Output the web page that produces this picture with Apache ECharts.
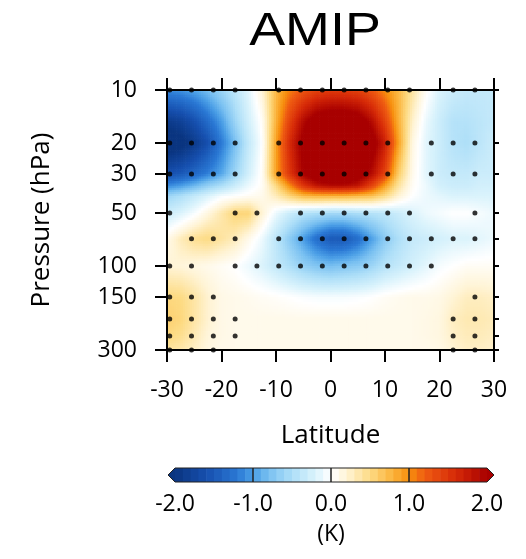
<!DOCTYPE html>
<html><head><meta charset="utf-8">
<script src="https://cdn.jsdelivr.net/npm/echarts@6/dist/echarts.min.js"></script>
<style>html,body{margin:0;padding:0;background:#fff}#c{width:526px;height:559px}</style>
</head><body><div id="c"></div>
<script>
// ---- data ----
const lats = [-30,-27.5,-25,-22.5,-20,-17.5,-15,-12.5,-10,-7.5,-5,-2.5,0,2.5,5,7.5,10,12.5,15,17.5,20,22.5,25,27.5,30];
const levels = [10,15,20,30,35,40,50,70,100,150,200,250,300];
const t10  = [-1.1,-1.05,-0.95,-0.8,-0.6,-0.4,-0.15,0.2,0.75,1.05,1.25,1.4,1.45,1.45,1.4,1.25,1.0,0.75,0.4,0.05,-0.2,-0.3,-0.35,-0.35,-0.35];
const t15  = [-1.9,-1.8,-1.6,-1.3,-1.0,-0.6,-0.25,0.05,0.8,1.4,1.9,2.2,2.3,2.3,2.2,1.9,1.4,0.8,0.25,-0.1,-0.3,-0.45,-0.45,-0.4,-0.35];
const t20  = [-2.2,-2.1,-1.9,-1.6,-1.2,-0.8,-0.35,0.0,0.9,1.6,2.1,2.4,2.5,2.5,2.4,2.2,1.7,0.9,0.15,-0.15,-0.3,-0.45,-0.5,-0.4,-0.3];
const t30  = [-1.6,-1.5,-1.35,-1.15,-0.95,-0.6,-0.25,0.05,0.9,1.5,2.0,2.3,2.4,2.4,2.2,1.9,1.4,0.6,0.1,-0.15,-0.3,-0.35,-0.35,-0.3,-0.3];
const t35  = [-1.1,-1.0,-0.85,-0.65,-0.5,-0.3,-0.1,0.05,0.5,1.0,1.5,1.8,1.9,1.9,1.8,1.4,0.9,0.4,0.05,-0.1,-0.25,-0.3,-0.3,-0.25,-0.25];
const t40  = [-0.6,-0.5,-0.35,-0.2,-0.05,0.0,0.05,0.1,0.3,0.55,0.75,0.8,0.8,0.8,0.75,0.7,0.5,0.2,0.0,-0.1,-0.15,-0.2,-0.2,-0.2,-0.2];
const t50  = [-0.3,-0.2,-0.05,0.15,0.35,0.55,0.55,0.2,-0.1,-0.3,-0.45,-0.5,-0.55,-0.55,-0.5,-0.45,-0.4,-0.3,-0.2,-0.1,-0.05,0.0,0.0,-0.05,-0.1];
const t70  = [0.1,0.3,0.45,0.5,0.4,0.3,0.1,-0.1,-0.4,-0.7,-1.0,-1.3,-1.5,-1.5,-1.3,-1.0,-0.7,-0.5,-0.35,-0.3,-0.25,-0.2,-0.2,-0.15,-0.1];
const t100 = [0.2,0.18,0.14,0.1,0.05,0.0,-0.1,-0.2,-0.35,-0.5,-0.65,-0.75,-0.8,-0.75,-0.7,-0.6,-0.45,-0.35,-0.25,-0.15,-0.05,0.0,0.05,0.05,0.05];
const t150 = [0.52,0.5,0.38,0.22,0.12,0.1,0.08,0.05,0.03,0.0,-0.03,-0.05,-0.05,-0.05,-0.03,0.0,0.05,0.08,0.1,0.1,0.12,0.2,0.28,0.28,0.25];
const t200 = [0.58,0.53,0.38,0.22,0.12,0.1,0.1,0.1,0.1,0.1,0.1,0.1,0.1,0.1,0.1,0.1,0.1,0.1,0.1,0.12,0.15,0.28,0.33,0.33,0.3];
const t250 = [0.52,0.46,0.32,0.18,0.12,0.1,0.1,0.1,0.1,0.1,0.1,0.1,0.1,0.1,0.1,0.1,0.1,0.1,0.1,0.12,0.15,0.25,0.3,0.3,0.27];
const t300 = [0.4,0.35,0.26,0.15,0.1,0.1,0.1,0.1,0.1,0.1,0.1,0.1,0.1,0.1,0.1,0.1,0.1,0.1,0.1,0.1,0.12,0.2,0.26,0.26,0.23];
const field = [t10,t15,t20,t30,t35,t40,t50,t70,t100,t150,t200,t250,t300];

const pressureTicks = [10,20,30,50,100,150,300];
const dotLats = [-29.5,-25.5,-21.5,-17.5,-13.5,-9.5,-5.5,-1.5,2.5,6.5,10.5,14.5,18.5,22.5,26.5];
const dotLevels = [10,20,30,50,70,100,150,200,250,300];
const d10  = [0,1,2,3,5,6,7,8,9,10,11,13,14];
const d20  = [0,1,2,3,5,6,7,8,9,10,12,13,14];
const d30  = [0,1,2,3,5,6,7,8,9,10,12,13,14];
const d50  = [0,3,4,6,7,8,9,10,11,14];
const d70  = [1,2,3,5,6,7,8,9,10,11,12,13,14];
const d100 = [0,1,3,4,5,6,7,8,9,10,11,12];
const d150 = [0,1,2,14];
const d200 = [0,1,2,3,13,14];
const d250 = [0,1,2,3,13,14];
const d300 = [0,1,2,13,14];
const dotRows = [d10,d20,d30,d50,d70,d100,d150,d200,d250,d300];

const cbTicks = [-2,-1,0,1,2];
const cbStep = 0.1;

// ---- colour scale ----
const palette = [[-2,'#0a3580'],[-1.6,'#164fae'],[-1.2,'#2a78d4'],[-1.0,'#4a9ee6'],[-0.8,'#79c0f1'],[-0.5,'#aedff8'],
  [-0.2,'#daf3fc'],[0,'#ffffff'],[0.2,'#fff4d6'],[0.5,'#fddb84'],[0.8,'#fbb23a'],[1.0,'#f7900e'],[1.2,'#ef5c12'],[1.6,'#d62a08'],[2,'#a80000']];
function hex(c){return [parseInt(c.substr(1,2),16),parseInt(c.substr(3,2),16),parseInt(c.substr(5,2),16)];}
const palRGB = palette.map(p=>[p[0],hex(p[1])]);
function colorAt(v){
  v = Math.max(-2, Math.min(2, v));
  for (let k=0;k<palRGB.length-1;k++){
    const a=palRGB[k], b=palRGB[k+1];
    if (b[0] > a[0] && v >= a[0] && v <= b[0]){
      const t=(v-a[0])/(b[0]-a[0]);
      const r=Math.round(a[1][0]+(b[1][0]-a[1][0])*t), g=Math.round(a[1][1]+(b[1][1]-a[1][1])*t), bl=Math.round(a[1][2]+(b[1][2]-a[1][2])*t);
      return 'rgb('+r+','+g+','+bl+')';
    }
  }
  return palette[palette.length-1][1];
}

// ---- build series data ----
const cells = [];
for (let j=0;j<levels.length-1;j++) for (let i=0;i<lats.length-1;i++) cells.push([lats[i], levels[j], i, j]);
const dots = [];
dotRows.forEach((row,r)=>row.forEach(k=>dots.push([dotLats[k], dotLevels[r]])));
const cbData = [];
for (let v=cbTicks[0]; v<cbTicks[cbTicks.length-1]-1e-9; v+=cbStep) cbData.push([v, 0, v+cbStep]);

const FONT = 'Open Sans';
const chart = echarts.init(document.getElementById('c'), null, {renderer:'canvas'});
const axisLineStyle = {color:'#000', width:2};
chart.setOption({
  animation:false,
  backgroundColor:'#fff',
  graphic:[{type:'text', x:315, y:32, scaleX:1.17, style:{text:'AMIP', fontSize:46, fontFamily:'Liberation Sans', fill:'#000', align:'center', verticalAlign:'middle'}}],
  grid:[{left:167, top:90, width:327, height:260}, {left:175, top:468, width:312, height:14}],
  xAxis:[
    {gridIndex:0, type:'value', min:-30, max:30, interval:10, position:'bottom', z:10,
     axisLine:{onZero:false, lineStyle:axisLineStyle}, axisTick:{length:12, lineStyle:{color:'#000', width:2}},
     axisLabel:{margin:29, fontSize:23, color:'#000', fontFamily:FONT}, splitLine:{show:false},
     name:'Latitude', nameLocation:'middle', nameGap:73, nameTextStyle:{fontSize:26, color:'#000', fontFamily:FONT}},
    {gridIndex:0, type:'value', min:-30, max:30, interval:10, position:'top', z:10,
     axisLine:{onZero:false, lineStyle:axisLineStyle}, axisTick:{length:12, lineStyle:{color:'#000', width:2}},
     axisLabel:{show:false}, splitLine:{show:false}},
    {gridIndex:1, type:'value', min:-2, max:2, interval:1,
     axisLine:{show:false}, axisTick:{show:false}, splitLine:{show:false},
     axisLabel:{margin:11, fontSize:23, color:'#000', fontFamily:FONT, formatter:v=>v.toFixed(1)},
     name:'(K)', nameLocation:'middle', nameGap:41, nameTextStyle:{fontSize:23, color:'#000', fontFamily:FONT}}
  ],
  yAxis:[
    {gridIndex:0, type:'log', logBase:10, min:10, max:300, inverse:true, position:'left', z:10,
     axisLine:{onZero:false, lineStyle:axisLineStyle},
     axisTick:{length:12, lineStyle:{color:'#000', width:2}, customValues:pressureTicks},
     axisLabel:{margin:30, fontSize:23, color:'#000', fontFamily:FONT, customValues:pressureTicks, formatter:v=>String(Math.round(v))},
     splitLine:{show:false}, minorTick:{show:false},
     name:'Pressure (hPa)', nameLocation:'middle', nameGap:112, nameTextStyle:{fontSize:26, color:'#000', fontFamily:FONT}},
    {gridIndex:0, type:'log', logBase:10, min:10, max:300, inverse:true, position:'right', z:10,
     axisLine:{onZero:false, lineStyle:axisLineStyle},
     axisTick:{length:5, lineStyle:{color:'#000', width:2}, customValues:dotLevels},
     axisLabel:{show:false, customValues:dotLevels}, splitLine:{show:false}},
    {gridIndex:1, type:'value', min:0, max:1, show:false}
  ],
  series:[
    {type:'custom', xAxisIndex:0, yAxisIndex:0, data:cells, encode:{x:0, y:1}, silent:true, clip:true, z:1,
     renderItem:function(params, api){
       const i=api.value(2), j=api.value(3);
       const la0=lats[i], la1=lats[i+1], p0=levels[j], p1=levels[j+1];
       const v00=field[j][i], v10=field[j][i+1], v01=field[j+1][i], v11=field[j+1][i+1];
       const a0=api.coord([la0,p0]), a1=api.coord([la1,p1]);
       const nx=Math.max(1,Math.ceil(Math.abs(a1[0]-a0[0])/2.5)), ny=Math.max(1,Math.ceil(Math.abs(a1[1]-a0[1])/2.5));
       const children=[];
       for (let a=0;a<nx;a++){
         const lA=la0+(la1-la0)*a/nx, lB=la0+(la1-la0)*(a+1)/nx, u=(a+0.5)/nx;
         for (let b=0;b<ny;b++){
           const pA=p0*Math.pow(p1/p0,b/ny), pB=p0*Math.pow(p1/p0,(b+1)/ny), t=(b+0.5)/ny;
           const v=(v00*(1-u)+v10*u)*(1-t)+(v01*(1-u)+v11*u)*t;
           const q0=api.coord([lA,pA]), q1=api.coord([lB,pB]);
           children.push({type:'rect', shape:{x:Math.min(q0[0],q1[0]), y:Math.min(q0[1],q1[1]), width:Math.abs(q1[0]-q0[0])+0.7, height:Math.abs(q1[1]-q0[1])+0.7},
             style:{fill:colorAt(v)}});
         }
       }
       return {type:'group', children};
     }},
    {type:'scatter', xAxisIndex:0, yAxisIndex:0, data:dots, symbolSize:5, itemStyle:{color:'#000'}, silent:true, z:5, clip:false},
    {type:'custom', xAxisIndex:2, yAxisIndex:2, data:cbData, encode:{x:[0,2], y:1}, silent:true, z:3,
     renderItem:function(params, api){
       const v0=api.value(0), v1=api.value(2);
       const c0=api.coord([v0,0]), c1=api.coord([v1,1]);
       return {type:'rect', shape:{x:c0[0], y:c1[1], width:c1[0]-c0[0]+0.6, height:c0[1]-c1[1]}, style:{fill:colorAt((v0+v1)/2)}};
     }},
    {type:'custom', xAxisIndex:2, yAxisIndex:2, data:[[cbTicks[0],0]], encode:{x:0, y:1}, silent:true, z:4,
     renderItem:function(params, api){
       const lo=cbTicks[0], hi=cbTicks[cbTicks.length-1];
       const b0=api.coord([lo,0]), t1=api.coord([hi,1]);
       const yb=b0[1], yt=t1[1], ym=(yb+yt)/2, xl=b0[0], xr=t1[0], tw=7;
       const ch=[
         {type:'polygon', shape:{points:[[xl-tw,ym],[xl,yt],[xl,yb]]}, style:{fill:colorAt(lo)}},
         {type:'polygon', shape:{points:[[xr+tw,ym],[xr,yt],[xr,yb]]}, style:{fill:colorAt(hi)}},
         {type:'polygon', shape:{points:[[xl-tw,ym],[xl,yt],[xr,yt],[xr+tw,ym],[xr,yb],[xl,yb]]}, style:{fill:null, stroke:'#222', lineWidth:1}}
       ];
       cbTicks.slice(1,-1).forEach(v=>{const c=api.coord([v,0]); ch.push({type:'line', shape:{x1:c[0],y1:yt,x2:c[0],y2:yb}, style:{stroke:'#222', lineWidth:1.5}});});
       return {type:'group', children:ch};
     }}
  ]
});
</script></body></html>
